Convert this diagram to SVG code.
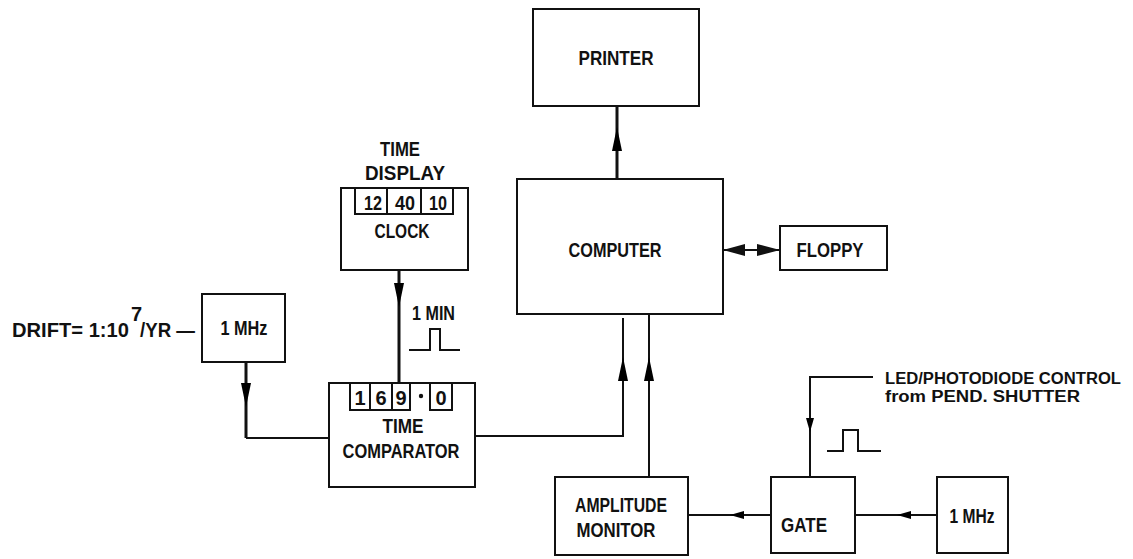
<svg xmlns="http://www.w3.org/2000/svg" xmlns:xlink="http://www.w3.org/1999/xlink" width="1133" height="559" viewBox="0 0 1133 559">
<style>
.box{fill:none;stroke:#111;stroke-width:2}
.ln{fill:none;stroke:#111;stroke-width:2}
.thk{fill:none;stroke:#111;stroke-width:3}
.ah{fill:#111;stroke:none}
text{font-family:"Liberation Sans",Arial,sans-serif;font-weight:bold;fill:#111;font-size:20px}
.c{text-anchor:middle}
.s{font-size:16px}
</style>
<defs>
<path id="ahv" d="M0,0 L-5,24 L5,24 Z"/>
<path id="ahs" d="M0,0 L-4,14 L4,14 Z"/>
</defs>
<rect width="1133" height="559" fill="#fff"/>

<g id="printer">
<rect class="box" x="533" y="9" width="166" height="97"/>
<text class="c" x="616" y="65" textLength="75" lengthAdjust="spacingAndGlyphs">PRINTER</text>
</g>
<g id="computer">
<rect class="box" x="517" y="179" width="206" height="135"/>
<text class="c" x="615" y="257" textLength="93" lengthAdjust="spacingAndGlyphs">COMPUTER</text>
</g>
<g id="floppy">
<rect class="box" x="780" y="226" width="107" height="44"/>
<text class="c" x="830" y="257" textLength="67" lengthAdjust="spacingAndGlyphs">FLOPPY</text>
</g>
<g id="clock">
<text class="c" x="400" y="156" textLength="40" lengthAdjust="spacingAndGlyphs">TIME</text>
<text class="c" x="405" y="180" textLength="80" lengthAdjust="spacingAndGlyphs">DISPLAY</text>
<rect class="box" x="341" y="188" width="127" height="82"/>
<rect class="box" x="355" y="188" width="98" height="26"/>
<line class="ln" x1="387" y1="188" x2="387" y2="214"/>
<line class="ln" x1="421" y1="188" x2="421" y2="214"/>
<text class="c" x="373" y="210" textLength="18" lengthAdjust="spacingAndGlyphs">12</text>
<text class="c" x="405" y="210" textLength="20" lengthAdjust="spacingAndGlyphs">40</text>
<text class="c" x="438" y="210" textLength="18" lengthAdjust="spacingAndGlyphs">10</text>
<text class="c" x="402" y="238" textLength="55" lengthAdjust="spacingAndGlyphs">CLOCK</text>
</g>
<g id="osc1">
<rect class="box" x="202" y="294" width="83" height="68"/>
<text class="c" x="244" y="335" textLength="47" lengthAdjust="spacingAndGlyphs">1 MHz</text>
<text x="12" y="337" textLength="117" lengthAdjust="spacingAndGlyphs">DRIFT= 1:10</text>
<text x="131" y="321" font-size="13">7</text>
<text x="140" y="337" textLength="55" lengthAdjust="spacingAndGlyphs">/YR —</text>
</g>
<g id="comparator">
<rect class="box" x="329" y="383" width="146" height="104"/>
<rect class="box" x="350" y="383" width="60" height="27"/>
<line class="ln" x1="370" y1="383" x2="370" y2="410"/>
<line class="ln" x1="392" y1="383" x2="392" y2="410"/>
<rect class="box" x="430" y="383" width="22" height="27"/>
<circle cx="421" cy="396" r="2.2" fill="#111"/>
<text class="c" x="360" y="405">1</text>
<text class="c" x="381" y="405">6</text>
<text class="c" x="401" y="405">9</text>
<text class="c" x="441" y="405">0</text>
<text class="c" x="403" y="433" textLength="41" lengthAdjust="spacingAndGlyphs">TIME</text>
<text class="c" x="401" y="458" textLength="117" lengthAdjust="spacingAndGlyphs">COMPARATOR</text>
</g>
<g id="amplitude">
<rect class="box" x="555" y="477" width="133" height="78"/>
<text class="c" x="621" y="512" textLength="92" lengthAdjust="spacingAndGlyphs">AMPLITUDE</text>
<text class="c" x="616" y="537" textLength="79" lengthAdjust="spacingAndGlyphs">MONITOR</text>
</g>
<g id="gate">
<rect class="box" x="771" y="477" width="84" height="76"/>
<text class="c" x="804" y="532" textLength="46" lengthAdjust="spacingAndGlyphs">GATE</text>
</g>
<g id="osc2">
<rect class="box" x="937" y="477" width="71" height="76"/>
<text class="c" x="972" y="523" textLength="45" lengthAdjust="spacingAndGlyphs">1 MHz</text>
</g>
<g id="led-label">
<text class="s" x="885" y="384" textLength="236" lengthAdjust="spacingAndGlyphs">LED/PHOTODIODE CONTROL</text>
<text class="s" x="885" y="402" textLength="195" lengthAdjust="spacingAndGlyphs">from PEND. SHUTTER</text>
</g>

<g id="connectors">
<line class="thk" x1="617" y1="179" x2="617" y2="106"/>
<use xlink:href="#ahv" transform="translate(617,127)"/>
<line class="ln" x1="723" y1="250" x2="780" y2="250"/>
<path class="ah" d="M723,250 L745,244 L745,256 Z"/>
<path class="ah" d="M780,250 L757,244 L757,256 Z"/>
<line class="thk" x1="399" y1="270" x2="399" y2="383"/>
<use xlink:href="#ahv" transform="translate(399,307) rotate(180)"/>
<text x="412" y="320" textLength="43" lengthAdjust="spacingAndGlyphs">1 MIN</text>
<path class="ln" d="M409,350 H430 V329 H440 V350 H460"/>
<line class="thk" x1="246" y1="362" x2="246" y2="438"/>
<use xlink:href="#ahv" transform="translate(246,407) rotate(180)"/>
<path class="ln" d="M246,438 H329"/>
<path class="ln" d="M475,436 H623 V318"/>
<use xlink:href="#ahv" transform="translate(623,357)"/>
<line class="ln" x1="649" y1="314" x2="649" y2="477"/>
<use xlink:href="#ahv" transform="translate(649,357)"/>
<line class="ln" x1="771" y1="515" x2="688" y2="515"/>
<use xlink:href="#ahs" transform="translate(730,515) rotate(-90)"/>
<line class="ln" x1="937" y1="515" x2="855" y2="515"/>
<use xlink:href="#ahs" transform="translate(897,515) rotate(-90)"/>
<path class="ln" d="M873,377 H810 V477"/>
<use xlink:href="#ahs" transform="translate(810,432) rotate(180)"/>
<path class="ln" d="M827,451 H843 V430 H858 V451 H881"/>
</g>
</svg>
